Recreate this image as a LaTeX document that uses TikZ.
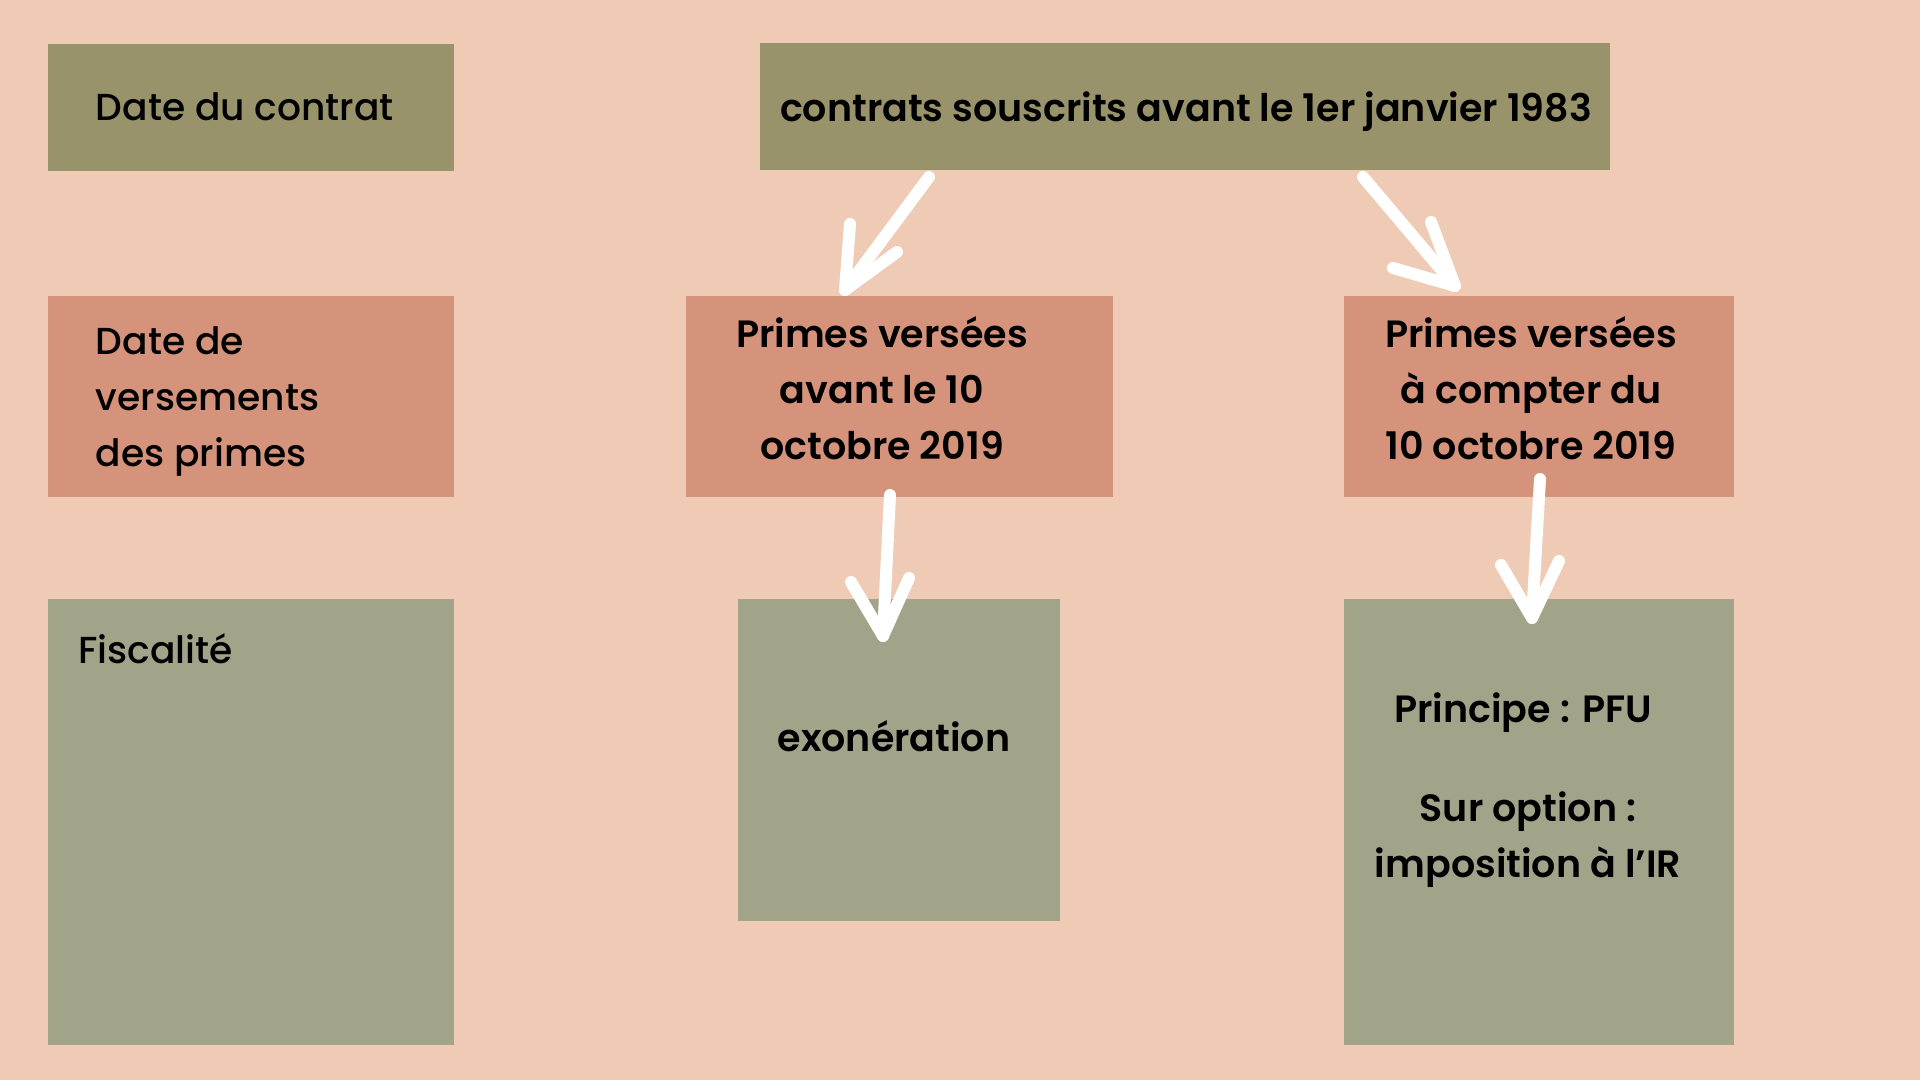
\documentclass[tikz,border=0pt]{standalone}
\usepackage{fontspec}
\setmainfont{Poppins}[UprightFont=* Medium, BoldFont=* SemiBold]
\definecolor{bgc}{HTML}{EFCBB5}
\definecolor{olive}{HTML}{98936A}
\definecolor{terra}{HTML}{D4937A}
\definecolor{sage}{HTML}{A2A48A}
\tikzset{
  box/.style={rectangle, inner sep=0pt, outer sep=0pt},
  lbl/.style={inner sep=0pt, font=\fontsize{18.8}{28}\selectfont, text=black},
  blbl/.style={inner sep=0pt, font=\fontsize{19}{28}\selectfont\bfseries, text=black, align=center},
  harrow/.style={white, line width=6pt, line cap=round, line join=round},
}
\begin{document}
\begin{tikzpicture}[x=0.5pt,y=-0.5pt]
\fill[bgc] (0,0) rectangle (1920,1080);
\useasboundingbox (0,0) rectangle (1920,1080);
% boxes
\node[box, fill=olive, minimum width=203pt, minimum height=63.5pt] (A) at (251,107.5) {};
\node[box, fill=olive, minimum width=425pt, minimum height=63.5pt] (B) at (1185,106.5) {};
\node[box, fill=terra, minimum width=203pt, minimum height=100.5pt] (C) at (251,396.5) {};
\node[box, fill=terra, minimum width=213.5pt, minimum height=100.5pt] (D) at (899.5,396.5) {};
\node[box, fill=terra, minimum width=195pt, minimum height=100.5pt] (E) at (1539,396.5) {};
\node[box, fill=sage, minimum width=203pt, minimum height=223pt] (F) at (251,822) {};
\node[box, fill=sage, minimum width=161pt, minimum height=161pt] (G) at (899,760) {};
\node[box, fill=sage, minimum width=195pt, minimum height=223pt] (H) at (1539,822) {};
% texts
\node[lbl, anchor=west] (tA) at (95.5,107) {Date du contrat};
\node[lbl, anchor=west, align=left] (tC) at (95.5,402) {Date de\\versements\\des primes};
\node[lbl, anchor=west] (tF) at (78,649) {Fiscalité};
\node[blbl] (tB) at (1186,112) {contrats souscrits avant le 1er janvier 1983};
\node[blbl] (tD) at (882,388) {Primes versées\\avant le 10\\octobre 2019};
\node[blbl] (tE) at (1531,388) {Primes versées\\à compter du\\10 octobre 2019};
\node[blbl] (tG) at (894,736) {exonération};
\node[blbl] (tH1) at (1523,713) {Principe : PFU};
\node[blbl] (tH2) at (1528,840) {Sur option :\\imposition à l’IR};
% hand-drawn arrows
\coordinate (a1s) at (929,177);
\coordinate (a1t) at (845,290);
\coordinate (a1l) at (850,224);
\coordinate (a1r) at (897,252);
\coordinate (a2s) at (1363,177);
\coordinate (a2t) at (1455,286);
\coordinate (a2u) at (1431,222);
\coordinate (a2l) at (1393,268);
\coordinate (a3s) at (890,495);
\coordinate (a3t) at (883,636);
\coordinate (a3l) at (851,582);
\coordinate (a3r) at (909,578);
\coordinate (a4s) at (1540,479);
\coordinate (a4t) at (1532,618);
\coordinate (a4l) at (1501,565);
\coordinate (a4r) at (1559,561);
\draw[harrow] (a1s) -- (a1t);
\draw[harrow] (a1l) -- (a1t) -- (a1r);
\draw[harrow] (a2s) -- (a2t);
\draw[harrow] (a2u) -- (a2t) -- (a2l);
\draw[harrow] (a3s) -- (a3t);
\draw[harrow] (a3l) -- (a3t) -- (a3r);
\draw[harrow] (a4s) -- (a4t);
\draw[harrow] (a4l) -- (a4t) -- (a4r);
\end{tikzpicture}
\end{document}
